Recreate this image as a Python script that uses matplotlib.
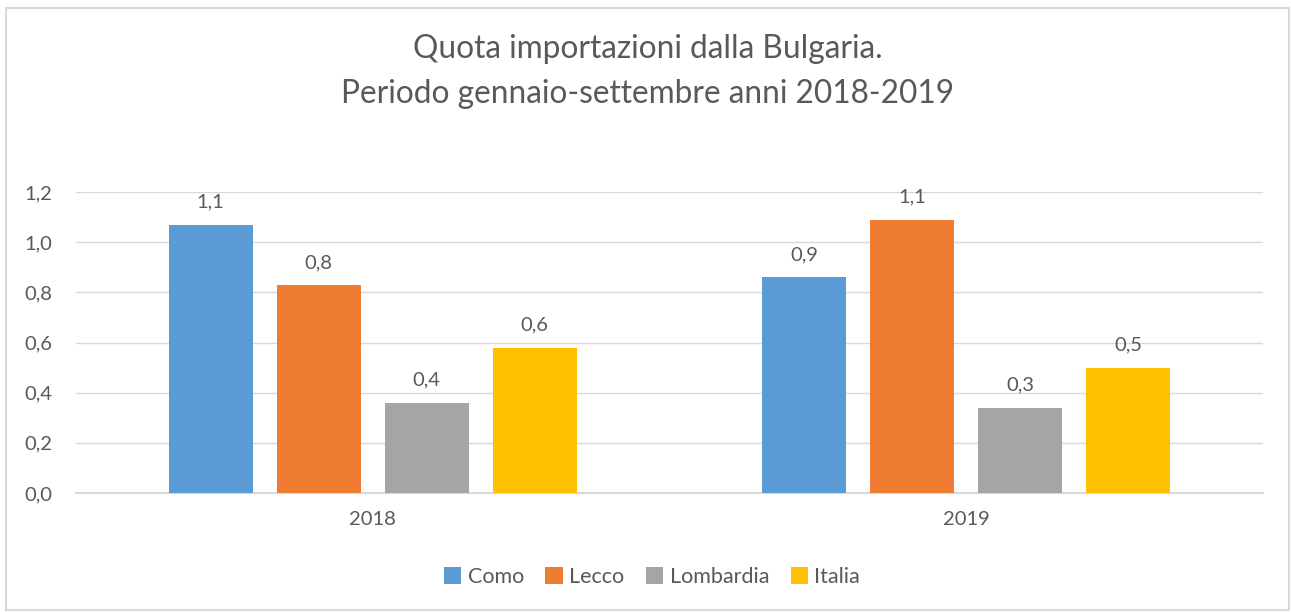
import numpy as np
import matplotlib.pyplot as plt
from matplotlib.patches import Rectangle

# data ------------------------------------------
anni = ['2018', '2019']
como = [1.07, 0.86]
lecco = [0.83, 1.09]
lombardia = [0.36, 0.34]
italia = [0.58, 0.50]
serie = ['Como', 'Lecco', 'Lombardia', 'Italia']
colori = ['#5B9BD5', '#ED7D31', '#A5A5A5', '#FFC000']
yticks = [0.0, 0.2, 0.4, 0.6, 0.8, 1.0, 1.2]

plt.rcParams['font.family'] = ['Lato', 'DejaVu Sans']
GREY = '#595959'

fig = plt.figure(figsize=(12.91, 6.12), dpi=100)
ax = fig.add_axes([76/1291, 1-493/612, 1187/1291, 301/612])

# frame round the chart
fig.patches.append(Rectangle((6/1291, 2/612), 1283/1291, 602/612, transform=fig.transFigure,
                             fill=False, edgecolor='#D9D9D9', linewidth=1.5))

x = np.arange(len(anni))
step = 0.182
width = 0.1416
valori = [como, lecco, lombardia, italia]
for i, (nome, v, c) in enumerate(zip(serie, valori, colori)):
    bars = ax.bar(x + (i - 1.5)*step, v, width, color=c, label=nome, zorder=3)
    for b, val in zip(bars, v):
        ax.annotate(f"{val:.1f}".replace('.', ','), (b.get_x() + b.get_width()/2, val),
                    xytext=(0, 10), textcoords='offset points', ha='center', va='bottom',
                    fontsize=14.5, color=GREY)

ax.set_xlim(-0.5, 1.5)
ax.set_ylim(0, 1.2)
ax.set_yticks(yticks)
ax.set_yticklabels([f"{t:.1f}".replace('.', ',') for t in yticks], fontsize=14.5, color=GREY)
ax.set_xticks(x)
ax.set_xticklabels(anni, fontsize=14.5, color=GREY)
ax.tick_params(length=0)
ax.tick_params(axis='x', pad=13)
ax.tick_params(axis='y', pad=17)
ax.grid(axis='y', color='#D9D9D9', linewidth=1, zorder=0)
for s in ['top', 'right', 'left']:
    ax.spines[s].set_visible(False)
ax.spines['bottom'].set_color('#D9D9D9')
ax.spines['bottom'].set_linewidth(1.5)

fig.text(648/1291, 1-71.5/612, "Quota importazioni dalla Bulgaria.\nPeriodo gennaio-settembre anni 2018-2019",
         ha='center', va='center', fontsize=22.8, color=GREY, linespacing=1.6)

fig.legend(loc='center', bbox_to_anchor=(652/1291, 1-577/612), ncol=4, frameon=False,
           fontsize=15.5, handlelength=0.8, handleheight=0.8, handletextpad=0.3,
           columnspacing=1.0, labelcolor=GREY)

fig.savefig('out.png', dpi=100)
